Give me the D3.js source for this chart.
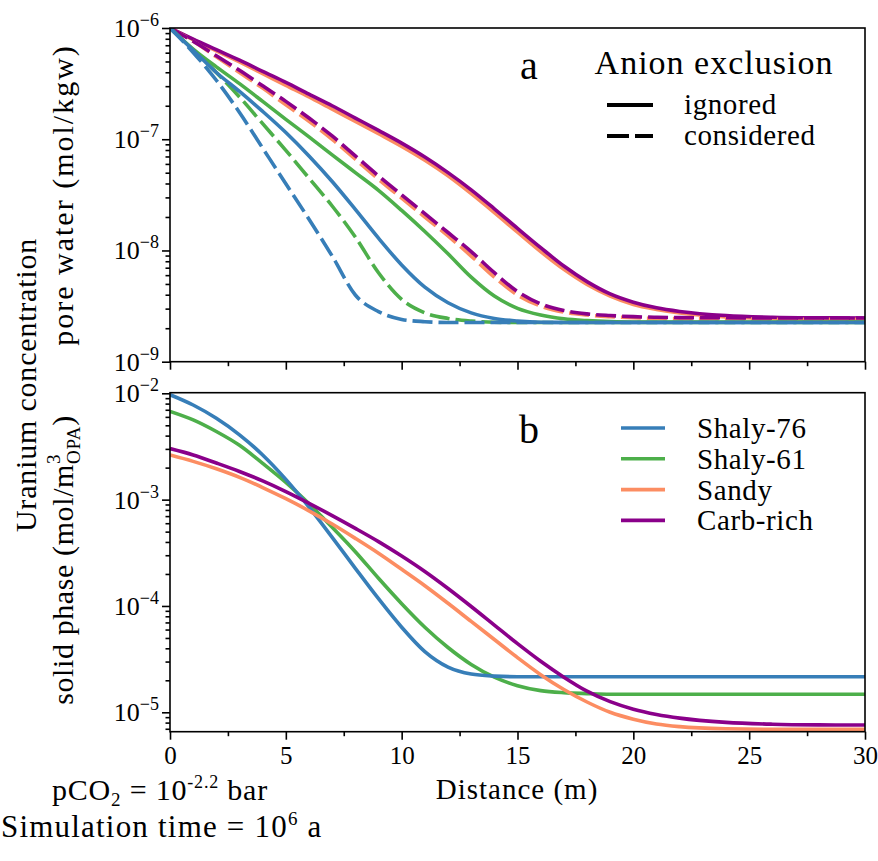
<!DOCTYPE html>
<html>
<head>
<meta charset="utf-8">
<title>Uranium concentration</title>
<style>
  body { margin: 0; background: #fff; }
  .tick line { stroke: #000; stroke-width: 1.6; }
  .domain { display: none; }
</style>
</head>
<body>
<figure style="margin:0"></figure>
<script src="https://d3js.org/d3.v7.min.js"></script>
<script>

// ---------------- data ----------------
const distance = [0, 1, 2, 3, 4, 5, 6, 7, 8, 9, 10, 11, 12, 13, 14, 15, 16, 17, 18, 19, 20, 21, 22, 24, 26, 28, 30]

// pore water, mol/kgw
const poreShaly76Ignored = [1e-6, 6.31e-7, 3.98e-7, 2.69e-7, 1.78e-7, 1.15e-7, 7.08e-8, 4.17e-8, 2.34e-8, 1.29e-8, 7.41e-9, 4.68e-9, 3.39e-9, 2.75e-9, 2.45e-9, 2.32e-9, 2.26e-9, 2.25e-9, 2.25e-9, 2.25e-9, 2.25e-9, 2.25e-9, 2.25e-9, 2.25e-9, 2.25e-9, 2.25e-9, 2.25e-9]
const poreShaly76Considered = [1e-6, 6.03e-7, 3.39e-7, 1.74e-7, 8.32e-8, 3.98e-8, 1.91e-8, 8.91e-9, 3.98e-9, 2.82e-9, 2.40e-9, 2.29e-9, 2.25e-9, 2.25e-9, 2.25e-9, 2.25e-9, 2.25e-9, 2.25e-9, 2.25e-9, 2.25e-9, 2.25e-9, 2.25e-9, 2.25e-9, 2.25e-9, 2.25e-9, 2.25e-9, 2.25e-9]
const poreShaly61Ignored = [1e-6, 6.46e-7, 4.47e-7, 3.16e-7, 2.19e-7, 1.51e-7, 1.05e-7, 7.24e-8, 5.01e-8, 3.47e-8, 2.29e-8, 1.48e-8, 9.33e-9, 5.75e-9, 3.89e-9, 3.02e-9, 2.63e-9, 2.43e-9, 2.34e-9, 2.29e-9, 2.27e-9, 2.27e-9, 2.27e-9, 2.27e-9, 2.27e-9, 2.27e-9, 2.27e-9]
const poreShaly61Considered = [1e-6, 6.31e-7, 3.98e-7, 2.40e-7, 1.38e-7, 7.94e-8, 4.47e-8, 2.51e-8, 1.32e-8, 6.31e-9, 3.63e-9, 2.75e-9, 2.45e-9, 2.32e-9, 2.26e-9, 2.25e-9, 2.25e-9, 2.25e-9, 2.25e-9, 2.25e-9, 2.25e-9, 2.25e-9, 2.25e-9, 2.25e-9, 2.25e-9, 2.25e-9, 2.25e-9]
const poreSandyIgnored = [1e-6, 7.85e-7, 6.24e-7, 4.95e-7, 3.89e-7, 3.05e-7, 2.40e-7, 1.86e-7, 1.45e-7, 1.12e-7, 8.61e-8, 6.46e-8, 4.68e-8, 3.24e-8, 2.19e-8, 1.46e-8, 9.77e-9, 6.76e-9, 4.95e-9, 3.89e-9, 3.27e-9, 2.95e-9, 2.74e-9, 2.53e-9, 2.45e-9, 2.42e-9, 2.41e-9]
const poreSandyConsidered = [1e-6, 7.59e-7, 5.50e-7, 3.98e-7, 2.88e-7, 2.04e-7, 1.45e-7, 1.00e-7, 6.61e-8, 4.37e-8, 2.95e-8, 2.00e-8, 1.35e-8, 8.91e-9, 5.75e-9, 3.98e-9, 3.16e-9, 2.79e-9, 2.63e-9, 2.54e-9, 2.48e-9, 2.45e-9, 2.44e-9, 2.43e-9, 2.41e-9, 2.41e-9, 2.41e-9]
const poreCarbIgnored = [1e-6, 7.94e-7, 6.38e-7, 5.13e-7, 4.07e-7, 3.24e-7, 2.54e-7, 2.00e-7, 1.55e-7, 1.20e-7, 9.23e-8, 6.92e-8, 5.01e-8, 3.51e-8, 2.37e-8, 1.58e-8, 1.06e-8, 7.24e-9, 5.25e-9, 4.07e-9, 3.43e-9, 3.05e-9, 2.83e-9, 2.60e-9, 2.51e-9, 2.48e-9, 2.47e-9]
const poreCarbConsidered = [1e-6, 7.59e-7, 5.62e-7, 4.17e-7, 3.02e-7, 2.19e-7, 1.55e-7, 1.07e-7, 7.08e-8, 4.68e-8, 3.16e-8, 2.14e-8, 1.45e-8, 9.77e-9, 6.31e-9, 4.27e-9, 3.31e-9, 2.88e-9, 2.69e-9, 2.60e-9, 2.54e-9, 2.51e-9, 2.49e-9, 2.48e-9, 2.47e-9, 2.47e-9, 2.47e-9]

// solid phase, mol/m3 OPA
const solidShaly76 = [9.7e-3, 7.76e-3, 5.82e-3, 4.07e-3, 2.63e-3, 1.55e-3, 8.51e-4, 4.42e-4, 2.26e-4, 1.17e-4, 6.31e-5, 3.72e-5, 2.66e-5, 2.29e-5, 2.19e-5, 2.16e-5, 2.16e-5, 2.16e-5, 2.16e-5, 2.16e-5, 2.16e-5, 2.16e-5, 2.16e-5, 2.16e-5, 2.16e-5, 2.16e-5, 2.16e-5]
const solidShaly61 = [6.76e-3, 5.62e-3, 4.37e-3, 3.24e-3, 2.19e-3, 1.45e-3, 9.12e-4, 5.50e-4, 3.24e-4, 1.82e-4, 1.05e-4, 6.31e-5, 4.07e-5, 2.82e-5, 2.14e-5, 1.78e-5, 1.60e-5, 1.53e-5, 1.50e-5, 1.48e-5, 1.48e-5, 1.48e-5, 1.48e-5, 1.48e-5, 1.48e-5, 1.48e-5, 1.48e-5]
const solidSandy = [2.63e-3, 2.29e-3, 1.95e-3, 1.62e-3, 1.30e-3, 1.02e-3, 7.85e-4, 5.89e-4, 4.32e-4, 3.13e-4, 2.21e-4, 1.55e-4, 1.06e-4, 7.16e-5, 4.84e-5, 3.27e-5, 2.26e-5, 1.64e-5, 1.25e-5, 1.00e-5, 8.61e-6, 7.76e-6, 7.33e-6, 7.00e-6, 6.92e-6, 6.92e-6, 6.92e-6]
const solidCarb = [3.02e-3, 2.63e-3, 2.21e-3, 1.84e-3, 1.50e-3, 1.19e-3, 9.23e-4, 7.08e-4, 5.37e-4, 4.03e-4, 2.95e-4, 2.11e-4, 1.46e-4, 9.89e-5, 6.61e-5, 4.42e-5, 3.02e-5, 2.14e-5, 1.58e-5, 1.26e-5, 1.07e-5, 9.55e-6, 8.81e-6, 8.04e-6, 7.73e-6, 7.62e-6, 7.59e-6]

const rockNames = ['Shaly-76', 'Shaly-61', 'Sandy', 'Carb-rich']
const xTicks = [0, 5, 10, 15, 20, 25, 30]
const xMinorTicks = [2.5, 7.5, 12.5, 17.5, 22.5, 27.5]
const poreTicks = [1e-9, 1e-8, 1e-7, 1e-6]
const solidTicks = [1e-5, 1e-4, 1e-3, 1e-2]

const colors = {
    'Shaly-76': '#377eb8',
    'Shaly-61': '#4daf4a',
    'Sandy': '#fc8d62',
    'Carb-rich': '#8a008a'
}

const FONT = "'Liberation Serif', 'DejaVu Serif', 'Times New Roman', Tinos, 'Nimbus Roman', FreeSerif, 'Noto Serif', serif"

////////////////////////////////////
///////////// SVG Setup ////////////
////////////////////////////////////

const width = 878
const height = 861

const svg = d3.select('figure')
    .append('svg')
    .attr('width', width)
    .attr('height', height)
    .attr('font-family', FONT)

const x = d3.scaleLinear().domain([0, 30]).range([170, 865])

// two panels, each with its own log scale
const yPore = d3.scaleLog().domain([1e-9, 1e-6]).range([361.7, 28])
const ySolid = d3.scaleLog().domain([6.57e-6, 1.013e-2]).range([731.7, 392.7])

const LW = 3.6

function minorTicks(scale) {
    const [lo, hi] = scale.domain()
    const out = []
    for (let k = Math.floor(Math.log10(lo)); k <= Math.ceil(Math.log10(hi)); k++) {
        for (let m = 2; m <= 9; m++) {
            const v = m * Math.pow(10, k)
            if (v >= lo && v <= hi) out.push(v)
        }
    }
    return out
}

// text with sub/superscript parts
function richText(g, px, py, parts, size, anchor) {
    const t = g.append('text')
        .attr('x', px).attr('y', py)
        .attr('font-size', size)
        .attr('text-anchor', anchor || 'start')
    let shift = 0
    parts.forEach(p => {
        let target = 0
        if (p.sup) target = -p.sup
        if (p.sub) target = p.sub
        const ts = t.append('tspan').text(p.t)
            .attr('dy', target - shift)
        if (p.size) ts.attr('font-size', p.size)
        if (p.dx) ts.attr('dx', p.dx)
        shift = target
    })
    return t
}

function drawPanel(yScale, top, bottom, ticks, series, showXLabels, id) {
    const g = svg.append('g')

    svg.append('clipPath').attr('id', id)
        .append('rect')
        .attr('x', x.range()[0]).attr('y', top)
        .attr('width', x.range()[1] - x.range()[0]).attr('height', bottom - top)

    const line = d3.line()
        .x((d, i) => x(distance[i]))
        .y(d => yScale(d))
        .curve(d3.curveMonotoneX)

    g.append('g').attr('clip-path', `url(#${id})`)
        .selectAll('path')
        .data(series)
        .join('path')
        .attr('d', d => line(d.values))
        .attr('fill', 'none')
        .attr('stroke', d => colors[d.rock])
        .attr('stroke-width', LW)
        .attr('stroke-dasharray', d => d.dashed ? '20,6' : null)

    // x axis (major + minor)
    const xAxis = g.append('g').attr('transform', `translate(0,${bottom})`)
        .call(d3.axisBottom(x).tickValues(xTicks).tickSize(8).tickPadding(7)
            .tickFormat(showXLabels ? d3.format('d') : ''))
    xAxis.attr('font-family', FONT)
    xAxis.selectAll('text').attr('font-size', 25).attr('fill', '#000')
    g.append('g').attr('transform', `translate(0,${bottom})`)
        .call(d3.axisBottom(x).tickValues(xMinorTicks).tickSize(4.5).tickFormat(''))

    // y axis (major + minor)
    g.append('g').attr('transform', `translate(${x.range()[0]},0)`)
        .call(d3.axisLeft(yScale).tickValues(ticks).tickSize(8).tickFormat(''))
    g.append('g').attr('transform', `translate(${x.range()[0]},0)`)
        .call(d3.axisLeft(yScale).tickValues(minorTicks(yScale)).tickSize(4.5).tickFormat(''))

    ticks.forEach(v => {
        richText(g, 159, yScale(v) + 9, [
            { t: '10' },
            { t: '\u2212' + Math.round(-Math.log10(v)), sup: 11, size: 18 }
        ], 26, 'end')
    })

    // frame
    g.append('rect')
        .attr('x', x.range()[0]).attr('y', top)
        .attr('width', x.range()[1] - x.range()[0]).attr('height', bottom - top)
        .attr('fill', 'none').attr('stroke', '#000').attr('stroke-width', 1.6)

    return g
}

////////////////////////////////////
/////////////// Draw items /////////
////////////////////////////////////

const poreSeries = [
    { rock: 'Sandy', dashed: false, values: poreSandyIgnored },
    { rock: 'Carb-rich', dashed: false, values: poreCarbIgnored },
    { rock: 'Sandy', dashed: true, values: poreSandyConsidered },
    { rock: 'Carb-rich', dashed: true, values: poreCarbConsidered },
    { rock: 'Shaly-61', dashed: false, values: poreShaly61Ignored },
    { rock: 'Shaly-61', dashed: true, values: poreShaly61Considered },
    { rock: 'Shaly-76', dashed: false, values: poreShaly76Ignored },
    { rock: 'Shaly-76', dashed: true, values: poreShaly76Considered }
]

const solidSeries = [
    { rock: 'Shaly-61', values: solidShaly61 },
    { rock: 'Shaly-76', values: solidShaly76 },
    { rock: 'Sandy', values: solidSandy },
    { rock: 'Carb-rich', values: solidCarb }
]

drawPanel(yPore, 28, 361.7, poreTicks, poreSeries, false, 'clipTop')
drawPanel(ySolid, 392.7, 731.7, solidTicks, solidSeries, true, 'clipBot')

// panel letters
svg.append('text').attr('x', 529).attr('y', 79).attr('font-size', 40)
    .attr('text-anchor', 'middle').text('a')
svg.append('text').attr('x', 529).attr('y', 443).attr('font-size', 40)
    .attr('text-anchor', 'middle').text('b')

// legend a: anion exclusion
svg.append('text').attr('x', 714).attr('y', 74).attr('font-size', 34)
    .attr('text-anchor', 'middle').attr('letter-spacing', 1).text('Anion exclusion')
const styleLegend = [
    { label: 'ignored', dash: null, y: 105 },
    { label: 'considered', dash: '22,6', y: 136 }
]
styleLegend.forEach(s => {
    svg.append('line')
        .attr('x1', 607).attr('x2', 653).attr('y1', s.y).attr('y2', s.y)
        .attr('stroke', '#000').attr('stroke-width', 4)
        .attr('stroke-dasharray', s.dash)
    svg.append('text').attr('x', 684).attr('y', s.y + 9).attr('font-size', 29)
        .attr('letter-spacing', 0.6).text(s.label)
})

// legend b: rock types
rockNames.forEach((name, i) => {
    const ly = 428 + i * 30.8
    svg.append('line')
        .attr('x1', 621).attr('x2', 665).attr('y1', ly).attr('y2', ly)
        .attr('stroke', colors[name]).attr('stroke-width', LW)
    svg.append('text').attr('x', 697).attr('y', ly + 10).attr('font-size', 29)
        .attr('letter-spacing', 0.6).text(name)
})

// axis titles
svg.append('text').attr('x', 517).attr('y', 799).attr('font-size', 29)
    .attr('text-anchor', 'middle').attr('letter-spacing', 1).text('Distance (m)')

svg.append('text').attr('transform', 'translate(36,385) rotate(-90)')
    .attr('font-size', 30).attr('text-anchor', 'middle').attr('letter-spacing', 0.8)
    .text('Uranium concentration')
svg.append('text').attr('transform', 'translate(73,195) rotate(-90)')
    .attr('font-size', 30).attr('text-anchor', 'middle').attr('letter-spacing', 2)
    .text('pore water (mol/kgw)')

const solidLabel = richText(svg, 0, 0, [
    { t: 'solid phase (mol/m' },
    { t: '3', sup: 13, size: 19 },
    { t: 'OPA', sub: 7, size: 19, dx: -10 },
    { t: ')' }
], 30, 'middle')
solidLabel.attr('transform', 'translate(73,560) rotate(-90)').attr('letter-spacing', 0.6)

// run conditions
richText(svg, 52, 800, [
    { t: 'pCO' },
    { t: '2', sub: 6, size: 19 },
    { t: ' = 10' },
    { t: '-2.2', sup: 12, size: 18 },
    { t: ' bar' }
], 30).attr('letter-spacing', 0.8)
richText(svg, 1, 837, [
    { t: 'Simulation time = 10' },
    { t: '6', sup: 12, size: 19 },
    { t: ' a' }
], 31).attr('letter-spacing', 1.2)

</script>
</body>
</html>
